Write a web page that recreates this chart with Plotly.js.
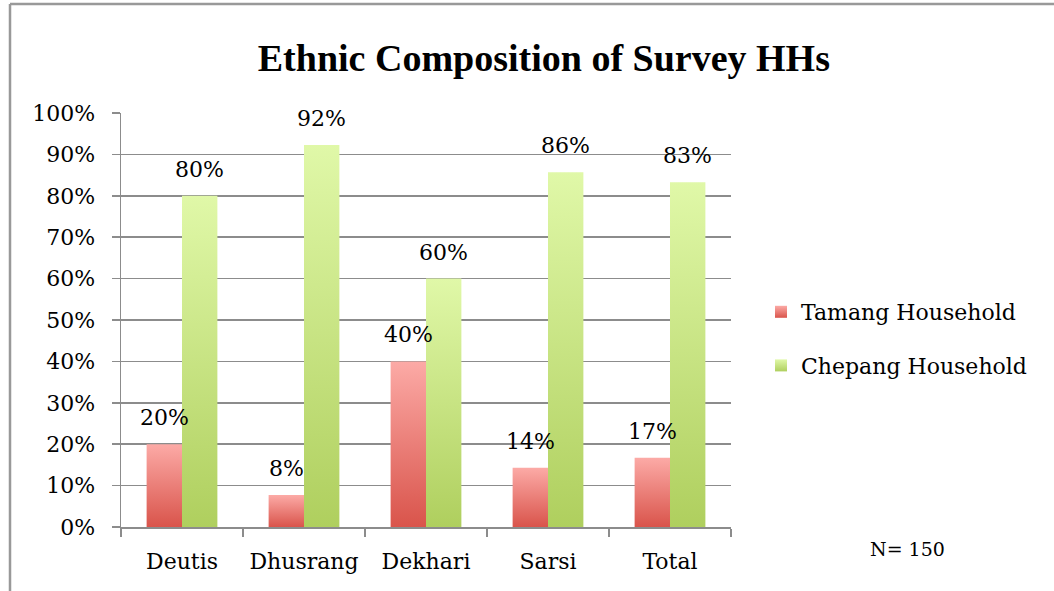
<!DOCTYPE html>
<html>
<head>
<meta charset="utf-8">
<script src="https://cdn.plot.ly/plotly-3.0.1.min.js"></script>
<style>
html,body{margin:0;padding:0;background:#fff;}
#chart{width:1054px;height:591px;}
</style>
</head>
<body>
<div id="chart"></div>
<script>
const categories = ["Deutis", "Dhusrang", "Dekhari", "Sarsi", "Total"];
const tamang = [20, 7.7, 40, 14.3, 16.7];
const chepang = [80, 92.3, 60, 85.7, 83.3];
const seriesNames = ["Tamang Household", "Chepang Household"];
const noteText = "N= 150";
const titleText = "Ethnic Composition of Survey HHs";

const bodyFont = "DejaVu Serif, Liberation Serif, serif";
const BARGAP = 0.42;
const half = (1 - BARGAP) / 4;

const traces = [
  {type: "bar", name: seriesNames[0], x: categories, y: tamang,
   marker: {color: "#ec7a72"}, legendgroup: "a", hoverinfo: "none"},
  {type: "bar", name: seriesNames[1], x: categories, y: chepang,
   marker: {color: "#c9e58a"}, legendgroup: "b", hoverinfo: "none"}
];

const annotations = [];
[tamang, chepang].forEach((vals, s) => {
  vals.forEach((v, i) => {
    annotations.push({
      xref: "x", yref: "y", x: i + (s === 0 ? -half : half), y: v,
      text: Math.round(v) + "%", showarrow: false, yanchor: "bottom",
      xanchor: "center", yshift: 12,
      font: {family: bodyFont, size: 22, color: "#000"}
    });
  });
});
annotations.push({
  xref: "paper", yref: "paper", x: (907 - 121) / 610, y: (527 - 549) / 414,
  text: noteText, showarrow: false, xanchor: "center", yanchor: "middle",
  font: {family: bodyFont, size: 19, color: "#000"}
});

const borderX = (10 - 121) / 610;
const borderY = (527 - 4) / 414;

const layout = {
  width: 1054, height: 591,
  margin: {l: 121, r: 323, t: 113, b: 64},
  paper_bgcolor: "#fff", plot_bgcolor: "#fff",
  barmode: "group", bargap: BARGAP, bargroupgap: 0,
  title: {text: "<b>" + titleText + "</b>", x: 0.516, xanchor: "center",
          y: 1 - 58 / 591, yanchor: "middle", yref: "container",
          font: {family: "Liberation Serif, serif", size: 38, color: "#000"}},
  xaxis: {type: "category", showline: true, linecolor: "#8c8c8c", linewidth: 1.5,
          ticks: "outside", tickson: "boundaries", ticklen: 8, tickcolor: "#8c8c8c",
          tickwidth: 1.5, ticklabelstandoff: 14,
          tickfont: {family: bodyFont, size: 22, color: "#000"}, showgrid: false,
          zeroline: false, fixedrange: true},
  yaxis: {range: [0, 100], dtick: 10, ticksuffix: "%", showline: true,
          linecolor: "#8c8c8c", linewidth: 1.5, ticks: "outside", ticklen: 8,
          tickcolor: "#8c8c8c", tickwidth: 1.5, gridcolor: "#8c8c8c", gridwidth: 1.5,
          ticklabelstandoff: 12, zeroline: false,
          tickfont: {family: bodyFont, size: 22, color: "#000"}, fixedrange: true},
  legend: {x: (761 - 121) / 610, xanchor: "left", y: (527 - 339) / 414, yanchor: "middle",
           traceorder: "grouped", tracegroupgap: 22,
           font: {family: bodyFont, size: 22, color: "#000"}, bgcolor: "rgba(0,0,0,0)"},
  annotations: annotations,
  shapes: [
    {type: "line", xref: "paper", yref: "paper", x0: borderX, x1: borderX, y0: -1, y1: borderY,
     line: {color: "#999", width: 2.5}, layer: "above"},
    {type: "line", xref: "paper", yref: "paper", x0: borderX, x1: 2, y0: borderY, y1: borderY,
     line: {color: "#999", width: 2.5}, layer: "above"}
  ],
  showlegend: true
};

Plotly.newPlot("chart", traces, layout, {displayModeBar: false, staticPlot: true}).then(gd => {
  const svg = gd.querySelector("svg.main-svg");
  const ns = "http://www.w3.org/2000/svg";
  let defs = svg.querySelector("defs");
  if (!defs) { defs = document.createElementNS(ns, "defs"); svg.insertBefore(defs, svg.firstChild); }
  const grads = [["gradRed", "#fcaaa6", "#d9544b"], ["gradGreen", "#e0f8a8", "#afcf5e"]];
  grads.forEach(([id, top, bot]) => {
    const g = document.createElementNS(ns, "linearGradient");
    g.setAttribute("id", id); g.setAttribute("x1", "0"); g.setAttribute("y1", "0");
    g.setAttribute("x2", "0"); g.setAttribute("y2", "1");
    [[0, top], [1, bot]].forEach(([o, c]) => {
      const st = document.createElementNS(ns, "stop");
      st.setAttribute("offset", o); st.setAttribute("stop-color", c);
      g.appendChild(st);
    });
    defs.appendChild(g);
  });
  gd.querySelectorAll(".barlayer .trace").forEach((tr, i) => {
    tr.querySelectorAll("path").forEach(p => { p.style.fill = "url(#" + grads[i][0] + ")"; });
  });
  gd.querySelectorAll(".legend .traces").forEach((tr, i) => {
    tr.querySelectorAll(".legendpoints path").forEach(p => { p.style.fill = "url(#" + grads[i][0] + ")"; });
  });
});
</script>
</body>
</html>
